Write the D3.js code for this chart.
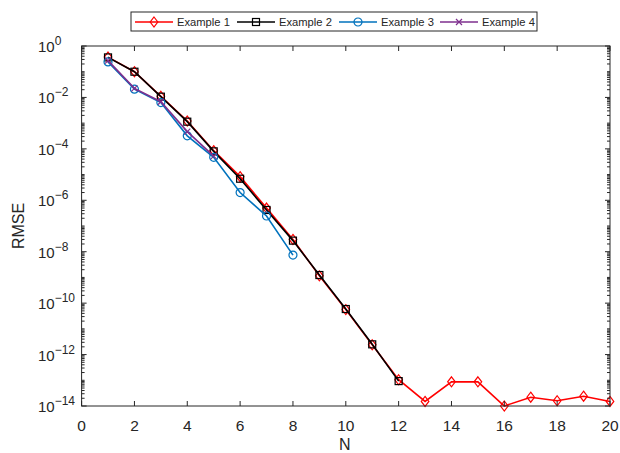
<!DOCTYPE html>
<html>
<head>
<meta charset="utf-8">
<script src="https://cdn.jsdelivr.net/npm/d3@7"></script>
<style>
  body { margin: 0; background: #fff; }
  text { font-family: "Liberation Sans", Arial, sans-serif; fill: #262626; }
</style>
</head>
<body>
<div class="chart"></div>
<script>
// RMSE values
const n1 = [1,2,3,4,5,6,7,8,9,10,11,12,13,14,15,16,17,18,19,20];
const ex1 = [0.37, 0.1, 0.011, 1.2e-3, 8.5e-5, 8.3e-6, 5.0e-7, 3.0e-8, 1.15e-9, 5.6e-11, 2.4e-12, 1.05e-13,
             1.5e-14, 8.7e-14, 8.7e-14, 1.0e-14, 2.2e-14, 1.6e-14, 2.4e-14, 1.5e-14];
const n2 = [1,2,3,4,5,6,7,8,9,10,11,12];
const ex2 = [0.36, 0.1, 0.0107, 1.14e-3, 8.0e-5, 6.9e-6, 4.2e-7, 2.7e-8, 1.24e-9, 5.9e-11, 2.5e-12, 9.3e-14];
const n3 = [1,2,3,4,5,6,7,8];
const ex3 = [0.24, 0.021, 6.3e-3, 3.2e-4, 4.7e-5, 2.0e-6, 2.45e-7, 7.4e-9];
const n4 = [1,2,3,4,5];
const ex4 = [0.27, 0.0225, 6.8e-3, 4.7e-4, 5.2e-5];

const xTicks = [0,2,4,6,8,10,12,14,16,18,20];
const yTicks = [0,-2,-4,-6,-8,-10,-12,-14];

const series = [
  {name: 'Example 1', n: n1, v: ex1, color: '#ff0000', marker: 'diamond'},
  {name: 'Example 2', n: n2, v: ex2, color: '#000000', marker: 'square'},
  {name: 'Example 3', n: n3, v: ex3, color: '#0072bd', marker: 'circle'},
  {name: 'Example 4', n: n4, v: ex4, color: '#7e2f8e', marker: 'cross'}
];

const w = 620, h = 453;
const pLeft = 81.6, pRight = 610, pTop = 46, pBottom = 406;
const axisColor = '#262626';

const x = d3.scaleLinear().domain([0, 20]).range([pLeft, pRight]);
const y = d3.scaleLog().domain([1e-14, 1]).range([pBottom, pTop]);

const svg = d3.select('div.chart').append('svg')
  .attr('width', w).attr('height', h);

function drawMarker(g, type, color) {
  if (type === 'diamond') {
    g.append('path').attr('d', 'M0,-5L3.8,0L0,5L-3.8,0Z')
      .attr('fill', 'none').attr('stroke', color).attr('stroke-width', 1.2);
  } else if (type === 'square') {
    g.append('rect').attr('x', -3.5).attr('y', -3.5).attr('width', 7).attr('height', 7)
      .attr('fill', 'none').attr('stroke', color).attr('stroke-width', 1.2);
  } else if (type === 'circle') {
    g.append('circle').attr('r', 4)
      .attr('fill', 'none').attr('stroke', color).attr('stroke-width', 1.2);
  } else {
    g.append('path').attr('d', 'M-3,-3L3,3M-3,3L3,-3')
      .attr('stroke', color).attr('stroke-width', 1.2);
  }
}

// series
const line = d3.line().x(d => x(d[0])).y(d => y(d[1]));
series.forEach(s => {
  const pts = s.n.map((n, i) => [n, s.v[i]]);
  svg.append('path').datum(pts)
    .attr('fill', 'none').attr('stroke', s.color).attr('stroke-width', 1.6)
    .attr('d', line);
  pts.forEach(p => {
    const g = svg.append('g').attr('transform', 'translate(' + x(p[0]) + ',' + y(p[1]) + ')');
    drawMarker(g, s.marker, s.color);
  });
});

// axes box and ticks
const ax = svg.append('g').attr('stroke', axisColor).attr('fill', 'none').attr('stroke-width', 1);
ax.append('rect').attr('x', pLeft).attr('y', pTop)
  .attr('width', pRight - pLeft).attr('height', pBottom - pTop);

xTicks.forEach(t => {
  ax.append('line').attr('x1', x(t)).attr('x2', x(t)).attr('y1', pBottom).attr('y2', pBottom - 5);
  ax.append('line').attr('x1', x(t)).attr('x2', x(t)).attr('y1', pTop).attr('y2', pTop + 5);
});

for (let e = -14; e <= 0; e++) {
  for (let k = 1; k <= 9; k++) {
    const v = k * Math.pow(10, e);
    if (v > 1) break;
    const len = (k === 1 && e % 2 === 0) ? 5 : 3;
    ax.append('line').attr('x1', pLeft).attr('x2', pLeft + len).attr('y1', y(v)).attr('y2', y(v));
    ax.append('line').attr('x1', pRight).attr('x2', pRight - len).attr('y1', y(v)).attr('y2', y(v));
  }
}

// tick labels
svg.append('g').selectAll('text').data(xTicks).enter().append('text')
  .attr('x', d => x(d)).attr('y', 431)
  .attr('text-anchor', 'middle').attr('font-size', 15.5)
  .text(d => d);

const yl = svg.append('g').selectAll('text').data(yTicks).enter().append('text')
  .attr('x', 38).attr('y', d => y(Math.pow(10, d)) + 6)
  .attr('font-size', 15);
yl.append('tspan').text('10');
yl.append('tspan').attr('dy', -7).attr('font-size', 12).text(d => d === 0 ? '0' : '\u2212' + Math.abs(d));

// axis titles
svg.append('text').attr('x', (pLeft + pRight) / 2 - 1).attr('y', 450)
  .attr('text-anchor', 'middle').attr('font-size', 16).text('N');
svg.append('text').attr('transform', 'translate(24,' + ((pTop + pBottom) / 2) + ') rotate(-90)')
  .attr('text-anchor', 'middle').attr('font-size', 16).text('RMSE');

// legend
const lg = svg.append('g');
lg.append('rect').attr('x', 131).attr('y', 12).attr('width', 406).attr('height', 19)
  .attr('fill', '#fff').attr('stroke', axisColor).attr('stroke-width', 1);
const lx = [135, 237, 339, 440];
series.forEach((s, i) => {
  lg.append('line').attr('x1', lx[i]).attr('x2', lx[i] + 38).attr('y1', 22).attr('y2', 22)
    .attr('stroke', s.color).attr('stroke-width', 1.6);
  const g = lg.append('g').attr('transform', 'translate(' + (lx[i] + 19) + ',22)');
  drawMarker(g, s.marker, s.color);
  lg.append('text').attr('x', lx[i] + 42).attr('y', 26).attr('font-size', 11.2).text(s.name);
});
</script>
</body>
</html>
